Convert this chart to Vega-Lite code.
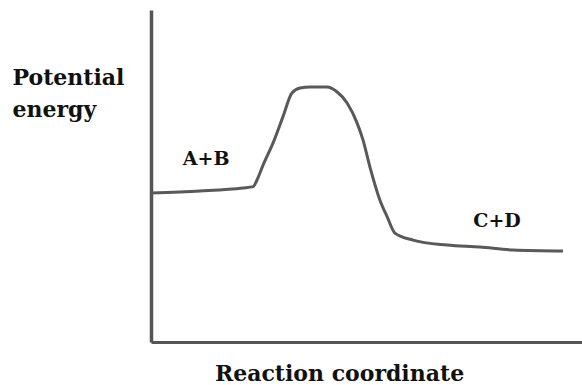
{
  "$schema": "https://vega.github.io/schema/vega-lite/v6.json",
  "width": 431,
  "height": 332,
  "autosize": "none",
  "padding": {"left": 151, "top": 10, "right": 0, "bottom": 43},
  "background": "white",
  "config": {"view": {"stroke": null}},
  "datasets": {
    "curve": [
      {"rc": 0, "pe": 44.9},
      {"rc": 11.4, "pe": 45.5},
      {"rc": 21.3, "pe": 46.4},
      {"rc": 23.7, "pe": 46.8},
      {"rc": 24.6, "pe": 48.8},
      {"rc": 26.0, "pe": 53.3},
      {"rc": 28.3, "pe": 59.9},
      {"rc": 30.6, "pe": 67.8},
      {"rc": 32.7, "pe": 75.0},
      {"rc": 34.6, "pe": 76.5},
      {"rc": 36.9, "pe": 76.8},
      {"rc": 40.8, "pe": 76.8},
      {"rc": 43.2, "pe": 75.3},
      {"rc": 45.5, "pe": 72.0},
      {"rc": 47.8, "pe": 66.0},
      {"rc": 49.2, "pe": 60.8},
      {"rc": 50.8, "pe": 52.7},
      {"rc": 53.1, "pe": 42.8},
      {"rc": 54.8, "pe": 37.7},
      {"rc": 56.6, "pe": 32.8},
      {"rc": 60.8, "pe": 30.7},
      {"rc": 68.7, "pe": 29.2},
      {"rc": 76.3, "pe": 28.6},
      {"rc": 84.0, "pe": 27.7},
      {"rc": 95.6, "pe": 27.4}
    ],
    "labels": [
      {"rc": 12.8, "pe": 53.3, "label": "A+B"},
      {"rc": 80.3, "pe": 34.6, "label": "C+D"}
    ]
  },
  "layer": [
    {
      "data": {"name": "curve"},
      "mark": {"type": "line", "color": "#595959", "strokeWidth": 3, "interpolate": "monotone"},
      "encoding": {
        "x": {
          "field": "rc", "type": "quantitative",
          "scale": {"domain": [0, 100], "nice": false, "zero": false},
          "axis": {
            "title": "Reaction coordinate",
            "ticks": false, "labels": false, "grid": false,
            "domainColor": "#555555", "domainWidth": 3,
            "titleFont": "DejaVu Serif", "titleFontWeight": "bold", "titleFontSize": 22,
            "titleColor": "#111111",
            "titleX": 188, "titleY": 38, "titleAlign": "center", "titleBaseline": "alphabetic"
          }
        },
        "y": {
          "field": "pe", "type": "quantitative",
          "scale": {"domain": [0, 100], "nice": false, "zero": false},
          "axis": {
            "title": ["Potential", "energy"],
            "ticks": false, "labels": false, "grid": false,
            "domainColor": "#555555", "domainWidth": 3.5,
            "titleFont": "DejaVu Serif", "titleFontWeight": "bold", "titleFontSize": 22,
            "titleColor": "#111111", "titleAngle": 0,
            "titleX": -139, "titleY": 74, "titleAlign": "left", "titleBaseline": "alphabetic",
            "titleLineHeight": 32
          }
        }
      }
    },
    {
      "data": {"name": "labels"},
      "mark": {"type": "text", "font": "DejaVu Serif", "fontWeight": "bold", "fontSize": 19, "color": "#111111", "align": "center", "baseline": "alphabetic"},
      "encoding": {
        "x": {"field": "rc", "type": "quantitative"},
        "y": {"field": "pe", "type": "quantitative"},
        "text": {"field": "label"}
      }
    }
  ]
}
